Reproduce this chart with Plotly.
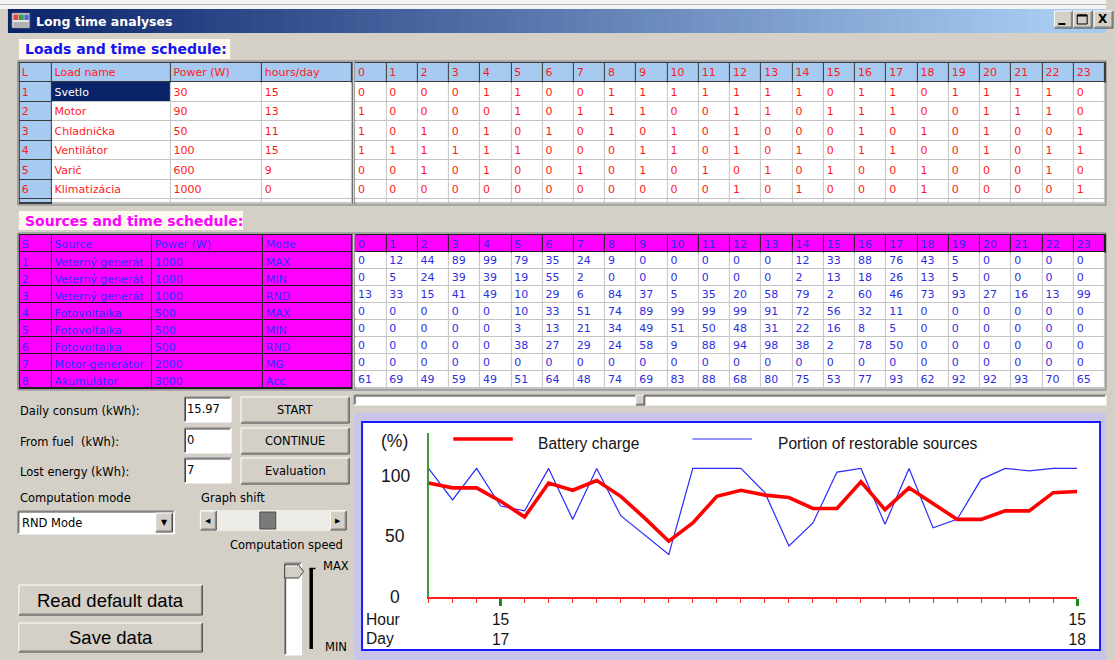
import plotly.graph_objects as go

W, H = 1115, 660
UI = "DejaVu Sans"
SANS = "Liberation Sans"
BG = "#D4D0C8"

# ---------------- data ----------------
load_headers = ["L", "Load name", "Power (W)", "hours/day"]
hour_labels = [str(h) for h in range(24)]
load_ids = [1, 2, 3, 4, 5, 6]
load_names = ["Svetlo", "Motor", "Chladnička", "Ventilátor", "Varič", "Klimatizácia"]
load_power = [30, 90, 50, 100, 600, 1000]
load_hours = [15, 13, 11, 15, 9, 0]
load_schedule = [
    [0, 0, 0, 0, 1, 1, 0, 0, 1, 1, 1, 1, 1, 1, 1, 0, 1, 1, 0, 1, 1, 1, 1, 0],
    [1, 0, 0, 0, 0, 1, 0, 1, 1, 1, 0, 0, 1, 1, 0, 1, 1, 1, 0, 0, 1, 1, 1, 0],
    [1, 0, 1, 0, 1, 0, 1, 0, 1, 0, 1, 0, 1, 0, 0, 0, 1, 0, 1, 0, 1, 0, 0, 1],
    [1, 1, 1, 1, 1, 1, 0, 0, 0, 1, 1, 0, 1, 0, 1, 0, 1, 1, 0, 0, 1, 0, 1, 1],
    [0, 0, 1, 0, 1, 0, 0, 1, 0, 1, 0, 1, 0, 1, 0, 1, 0, 0, 1, 0, 0, 0, 1, 0],
    [0, 0, 0, 0, 0, 0, 0, 0, 0, 0, 0, 0, 1, 0, 1, 0, 0, 0, 1, 0, 0, 0, 0, 1],
]

source_headers = ["S", "Source", "Power (W)", "Mode"]
source_ids = [1, 2, 3, 4, 5, 6, 7, 8]
source_names = ["Veterný generátor", "Veterný generátor", "Veterný generátor",
                "Fotovoltaika", "Fotovoltaika", "Fotovoltaika",
                "Motor-generátor", "Akumulátor"]
source_power = [1000, 1000, 1000, 500, 500, 500, 2000, 3000]
source_mode = ["MAX", "MIN", "RND", "MAX", "MIN", "RND", "MG", "Acc"]
source_schedule = [
    [0, 12, 44, 89, 99, 79, 35, 24, 9, 0, 0, 0, 0, 0, 12, 33, 88, 76, 43, 5, 0, 0, 0, 0],
    [0, 5, 24, 39, 39, 19, 55, 2, 0, 0, 0, 0, 0, 0, 2, 13, 18, 26, 13, 5, 0, 0, 0, 0],
    [13, 33, 15, 41, 49, 10, 29, 6, 84, 37, 5, 35, 20, 58, 79, 2, 60, 46, 73, 93, 27, 16, 13, 99],
    [0, 0, 0, 0, 0, 10, 33, 51, 74, 89, 99, 99, 99, 91, 72, 56, 32, 11, 0, 0, 0, 0, 0, 0],
    [0, 0, 0, 0, 0, 3, 13, 21, 34, 49, 51, 50, 48, 31, 22, 16, 8, 5, 0, 0, 0, 0, 0, 0],
    [0, 0, 0, 0, 0, 38, 27, 29, 24, 58, 9, 88, 94, 98, 38, 2, 78, 50, 0, 0, 0, 0, 0, 0],
    [0, 0, 0, 0, 0, 0, 0, 0, 0, 0, 0, 0, 0, 0, 0, 0, 0, 0, 0, 0, 0, 0, 0, 0],
    [61, 69, 49, 59, 49, 51, 64, 48, 74, 69, 83, 88, 68, 80, 75, 53, 77, 93, 62, 92, 92, 93, 70, 65],
]

chart_hour = [12, 13, 14, 15, 16, 17, 18, 19, 20, 21, 22, 23,
              0, 1, 2, 3, 4, 5, 6, 7, 8, 9, 10, 11, 12, 13, 14, 15]
chart_day = [17] * 12 + [18] * 16
battery_charge = [94, 90, 90, 79, 66, 94, 88, 96, 83, 65, 46, 61, 83, 88,
                  84, 82, 73, 73, 95, 72, 90, 77, 64, 64, 71, 71, 86, 87]
restorable_portion = [106, 80, 106, 75, 71, 106, 64, 106, 67, 51, 35, 106, 106, 106,
                      86, 42, 61, 103, 106, 60, 106, 57, 64, 97, 106, 104, 106, 106]
y_ticks = [0, 50, 100]
series_names = ["Battery charge", "Portion of restorable sources"]

daily_consum = "15.97"
from_fuel = "0"
lost_energy = "7"

# ---------------- helpers ----------------
fig = go.Figure()
shapes, annots = [], []


def yy(y):
    return 1 - y / H


def rect(x0, y0, x1, y1, fill=None, line=None, lw=1, layer="below"):
    shapes.append(dict(type="rect", xref="paper", yref="paper", layer=layer,
                       x0=x0 / W, x1=x1 / W, y0=yy(y1), y1=yy(y0),
                       fillcolor=fill if fill else "rgba(0,0,0,0)",
                       line=dict(color=line if line else "rgba(0,0,0,0)",
                                 width=lw if line else 0)))


def seg(x0, y0, x1, y1, color, lw=1, layer="below"):
    shapes.append(dict(type="line", xref="paper", yref="paper", layer=layer,
                       x0=x0 / W, x1=x1 / W, y0=yy(y0), y1=yy(y1),
                       line=dict(color=color, width=lw)))


def label(x, y, s, size=11.5, color="#000000", family=UI, xanchor="left"):
    annots.append(dict(xref="paper", yref="paper", x=x / W, y=yy(y), text=s,
                       showarrow=False, xanchor=xanchor, yanchor="middle",
                       borderpad=0, font=dict(family=family, size=size, color=color)))


def raised(x0, y0, x1, y1):
    rect(x0, y0, x1, y1, fill=BG)
    seg(x0, y0, x1, y0, "#FFFFFF")
    seg(x0, y0, x0, y1, "#FFFFFF")
    seg(x0, y1, x1, y1, "#404040")
    seg(x1, y0, x1, y1, "#404040")
    seg(x0 + 1, y1 - 1, x1 - 1, y1 - 1, "#808080")
    seg(x1 - 1, y0 + 1, x1 - 1, y1 - 1, "#808080")


def sunken(x0, y0, x1, y1, fill="#FFFFFF"):
    rect(x0, y0, x1, y1, fill=fill)
    seg(x0, y0, x1, y0, "#808080")
    seg(x0, y0, x0, y1, "#808080")
    seg(x0 + 1, y0 + 1, x1 - 1, y0 + 1, "#404040")
    seg(x0 + 1, y0 + 1, x0 + 1, y1 - 1, "#404040")
    seg(x0, y1, x1, y1, "#FFFFFF")
    seg(x1, y0, x1, y1, "#FFFFFF")


# ---------------- window chrome ----------------
rect(0, 0, W, 9, fill="#F2F2F2")
seg(0, 4.5, W, 4.5, "#B8B8B8")
C0, C1 = (10, 36, 106), (166, 202, 240)
N = 90
for i in range(N):
    a = 8 + (1060 - 8) * i / N
    b = 8 + (1060 - 8) * (i + 1) / N + 0.7
    t = i / (N - 1)
    col = "rgb(%d,%d,%d)" % tuple(round(c0 + (c1 - c0) * t) for c0, c1 in zip(C0, C1))
    rect(a, 9, b, 33, fill=col)
rect(1060, 9, W, 33, fill="rgb(166,202,240)")
# icon
rect(12, 13, 30, 28, fill="#E8E8E8", line="#606060", lw=0.8)
rect(13.5, 14.5, 18.5, 20, fill="#E04848")
rect(19, 14.5, 24, 20, fill="#3CA03C")
rect(24.5, 14.5, 29, 20, fill="#4A6AE0")
rect(13.5, 22, 29, 27, fill="#B0B0B8")
label(35, 21, "<b>Long time analyses</b>", size=12.5, color="#FFFFFF")
# title buttons
raised(1063, 11, 1081, 28)
seg(1067, 24, 1074, 24, "#000000", lw=2)
raised(1082, 11, 1101, 28)
rect(1086, 15, 1096, 24, line="#000000", lw=1)
seg(1086, 15.5, 1096, 15.5, "#000000", lw=2)
raised(1103, 11, 1122, 28)
label(1106, 19.5, "<b>X</b>", size=12, color="#000000")

# ---------------- section labels ----------------
rect(19, 39, 232, 59, fill="#FDF9EF")
label(24, 49.5, "<b>Loads and time schedule:</b>", size=14, color="#1414F0")
rect(19, 211, 245, 230, fill="#FDF9EF")
label(24, 221, "<b>Sources and time schedule:</b>", size=14, color="#FF00FF")

# ---------------- tables (heatmap cells + text) ----------------
HOUR_W = 31.5
CS = [[0, "#FFFFFF"], [0.1667, "#FFFFFF"], [0.1667, "#A6CAF0"], [0.5, "#A6CAF0"],
      [0.5, "#FF00FF"], [0.8333, "#FF00FF"], [0.8333, "#0A246A"], [1, "#0A246A"]]


def hour_edges(start):
    return [start + HOUR_W * k for k in range(25)]


def add_table(col_edges, row_edges, codes, texts, colors, offsets):
    fig.add_trace(go.Heatmap(x=col_edges, y=row_edges, z=codes, zmin=0, zmax=3,
                             colorscale=CS, showscale=False, xgap=1, ygap=1,
                             hoverinfo="skip", xaxis="x2", yaxis="y2"))
    xs, ys, ts, cs = [], [], [], []
    for r, row in enumerate(texts):
        for c, t in enumerate(row):
            hc = c if c < 4 else c + 1
            xs.append(col_edges[hc] + (2 if c == 0 else 3))
            ys.append((row_edges[r] + row_edges[r + 1]) / 2 + offsets[r][c])
            ts.append(t)
            cs.append(colors[r][c])
    fig.add_trace(go.Scatter(x=xs, y=ys, text=ts, mode="text", textposition="middle right",
                             textfont=dict(family=UI, size=11, color=cs), cliponaxis=False,
                             hoverinfo="skip", xaxis="x2", yaxis="y2"))


# loads table
load_cols = [20, 52, 172, 264, 355] + hour_edges(358)
load_rows = [63, 82] + [82 + 19.5 * (k + 1) for k in range(len(load_ids))] + [203]
rect(18, 61, W, 205, fill="#C4C4C4", line="#808080")
rect(19, 62, W, 82.5, fill="#3A3A3A")
rect(19, 62, 52.5, 204, fill="#3A3A3A")
rect(355, 62, 358, 204, fill="#E4E2DC")
seg(355.5, 62, 355.5, 204, "#606060")
seg(357.8, 62, 357.8, 204, "#606060")
load_codes = [[1] * 4 + [None] + [1] * 24]
for i in range(len(load_ids)):
    row = [1, 0, 0, 0, None] + [0] * 24
    if i == 0:
        row[1] = 3
    load_codes.append(row)
load_codes.append([1, 0, 0, 0, None] + [0] * 24)
load_text = [load_headers + hour_labels]
for i, n, p, hrs, s in zip(load_ids, load_names, load_power, load_hours, load_schedule):
    load_text.append([str(i), n, str(p), str(hrs)] + [str(v) for v in s])
load_colors = [["#FF1A1A"] * 28 for _ in load_text]
load_colors[1][1] = "#FFFFFF"
load_off = [[1] * 28 for _ in load_text]
add_table(load_cols, load_rows, load_codes, load_text, load_colors, load_off)

# sources table
src_cols = [20, 52, 153, 265, 355] + hour_edges(358)
src_rows = [235, 252] + [252 + 17 * (k + 1) for k in range(len(source_ids))]
rect(18, 233, W, 390, fill="#C4C4C4", line="#808080")
rect(19, 234, W, 252.5, fill="#1E1E1E")
rect(19, 234, 355, 389, fill="#1E1E1E")
rect(355, 234, 358, 389, fill="#E4E2DC")
seg(355.5, 234, 355.5, 389, "#606060")
seg(357.8, 234, 357.8, 389, "#606060")
src_codes = [[2] * 4 + [None] + [2] * 24]
for i in range(len(source_ids)):
    src_codes.append([2, 2, 2, 2, None] + [0] * 24)
src_text = [source_headers + hour_labels]
for i, n, p, m, s in zip(source_ids, source_names, source_power, source_mode, source_schedule):
    src_text.append([str(i), n[:15], str(p), m] + [str(v) for v in s])
src_colors = [["#2E2EFF"] * 4 + ["#2E2EE0"] * 24 for _ in src_text]
src_off = [[2] * 28] + [[3] * 4 + [1] * 24 for _ in source_ids]
add_table(src_cols, src_rows, src_codes, src_text, src_colors, src_off)

# horizontal scrollbar under sources table
sunken(357, 395, W, 405)
raised(641, 395, 650, 405)

# ---------------- controls ----------------
label(19, 411, "Daily consum (kWh):")
label(19, 442, "From fuel  (kWh):")
label(19, 472, "Lost energy (kWh):")
sunken(186, 397, 233, 422)
label(188, 409, daily_consum)
sunken(186, 428, 233, 453)
label(188, 440, from_fuel)
sunken(186, 458, 233, 483)
label(188, 470, lost_energy)
raised(243, 397, 352, 423)
label(297.5, 410, "START", xanchor="center")
raised(243, 428, 352, 454)
label(297.5, 441, "CONTINUE", xanchor="center")
raised(243, 458, 352, 484)
label(297.5, 471, "Evaluation", xanchor="center")

label(19, 498, "Computation mode")
sunken(18, 511, 176, 534)
label(21, 522.5, "RND Mode")
raised(157, 513, 174, 532)
label(165.5, 522.5, "▼", size=8, xanchor="center")

label(202, 498, "Graph shift")
rect(202, 510, 349, 531, fill="#ECEBE6")
raised(202, 511, 218, 530)
label(210, 520.5, "◀", size=7, xanchor="center")
raised(333, 511, 349, 530)
label(341, 520.5, "▶", size=7, xanchor="center")
rect(262, 512, 278, 529, fill="#7A7A7A", line="#4A4A4A", lw=1)

label(231, 545, "Computation speed")
sunken(287, 563, 304, 655)
pts = [(287, 565), (301, 565), (306, 571.5), (301, 578), (287, 578)]
path = "M " + " L ".join("%f,%f" % (x / W, yy(y)) for x, y in pts) + " Z"
shapes.append(dict(type="path", xref="paper", yref="paper", layer="below", path=path,
                   fillcolor=BG, line=dict(color="#404040", width=1)))
seg(288, 566, 300, 566, "#FFFFFF")
rect(312, 568, 315.5, 649, fill="#000000")
seg(312, 568.5, 318, 568.5, "#000000", lw=1.5)
label(325, 566, "MAX")
label(327, 647, "MIN")

raised(19, 585, 204, 615)
label(111.5, 600, "Read default data", size=18.5, family=SANS, xanchor="center")
raised(19, 623, 204, 652)
label(111.5, 637.5, "Save data", size=18.5, family=SANS, xanchor="center")

# ---------------- chart ----------------
rect(357, 413, W, H, fill="#C8C4EA")
rect(365, 422, 1109, 650, fill="#FFFFFF", line="#1A1AFF", lw=2)

idx = list(range(len(chart_hour)))
fig.add_trace(go.Scatter(x=idx, y=restorable_portion, mode="lines", name=series_names[1],
                         line=dict(color="#2A2AFF", width=1.2), hoverinfo="skip",
                         xaxis="x", yaxis="y"))
fig.add_trace(go.Scatter(x=idx, y=battery_charge, mode="lines", name=series_names[0],
                         line=dict(color="#FF0000", width=3.6), hoverinfo="skip",
                         xaxis="x", yaxis="y"))

tick_idx = [i for i, h in enumerate(chart_hour) if h == 15]
tick_txt = ["%d<br>%d" % (chart_hour[i], chart_day[i]) for i in tick_idx]

for v in y_ticks:
    annots.append(dict(xref="paper", yref="y", x=398.5 / W, y=v, text=str(v), showarrow=False,
                       xanchor="center", yanchor="middle",
                       font=dict(family=SANS, size=17.5, color="#151515")))
label(398, 441, "(%)", size=17.5, family=SANS, color="#151515", xanchor="center")
label(368, 619, "Hour", size=15.6, family=SANS, color="#151515")
label(368, 638, "Day", size=15.6, family=SANS, color="#151515")

# legend
seg(457, 439, 517, 439, "#FF0000", lw=3.6)
label(541, 443, series_names[0], size=15.6, family=SANS, color="#151515")
seg(698, 439, 758, 439, "#2A2AFF", lw=1.2)
label(783, 443, series_names[1], size=15.6, family=SANS, color="#151515")

fig.update_layout(
    width=W, height=H, autosize=False, margin=dict(l=0, r=0, t=0, b=0),
    paper_bgcolor=BG, plot_bgcolor="rgba(0,0,0,0)", showlegend=False,
    font=dict(family=UI),
    shapes=shapes, annotations=annots,
    xaxis=dict(domain=[432 / W, 1086 / W], range=[0, len(idx) - 1], anchor="y",
               showgrid=False, zeroline=False, showline=True, linecolor="#FF2020", linewidth=2,
               tickmode="array", tickvals=tick_idx, ticktext=tick_txt,
               ticks="outside", ticklen=7, tickwidth=2.5, tickcolor="#1A8A1A",
               tickfont=dict(family=SANS, size=15.6, color="#151515"),
               minor=dict(tickmode="array", tickvals=idx, ticks="outside", ticklen=4,
                          tickwidth=1, tickcolor="#FF2020", showgrid=False),
               fixedrange=True),
    yaxis=dict(domain=[1 - 597 / H, 1 - 433 / H], range=[0, 135.2], anchor="x",
               showgrid=False, zeroline=False, showline=True, linecolor="#3A9A3A", linewidth=2,
               ticks="", showticklabels=False, fixedrange=True),
    xaxis2=dict(domain=[0, 1], range=[0, W], anchor="y2", visible=False, fixedrange=True),
    yaxis2=dict(domain=[0, 1], range=[H, 0], anchor="x2", visible=False, fixedrange=True),
)

fig.write_html("out.html", config={"displayModeBar": False, "responsive": False},
               post_script="document.body.style.margin='0px';document.body.style.overflow='hidden';")
